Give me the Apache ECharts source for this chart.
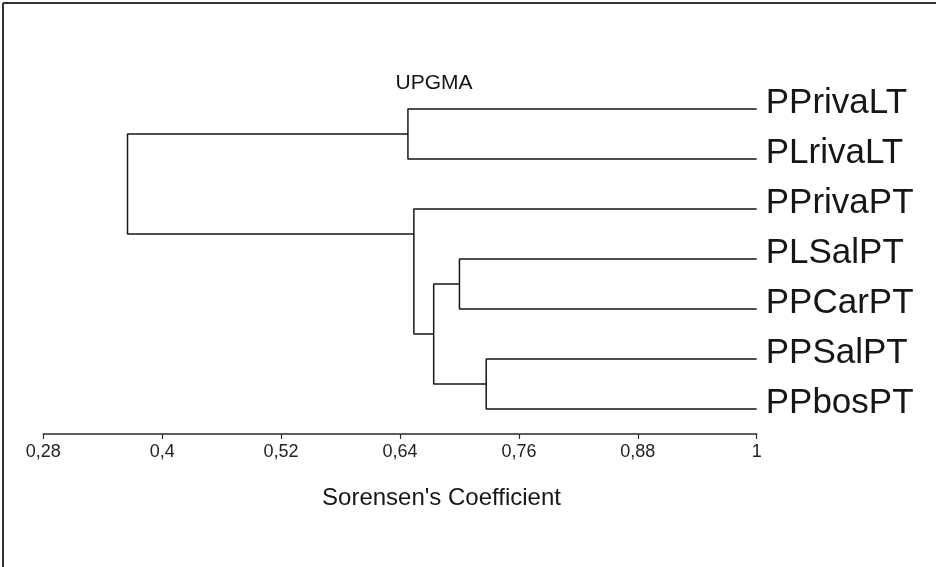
<!DOCTYPE html>
<html>
<head>
<meta charset="utf-8">
<title>UPGMA dendrogram</title>
<script src="https://cdn.jsdelivr.net/npm/echarts@6/dist/echarts.min.js"></script>
<style>
  html, body { margin: 0; padding: 0; background: #ffffff; }
  #chart { width: 936px; height: 567px; }
</style>
</head>
<body>
<div id="chart"></div>
<script>
// Leaves, top to bottom
const leaves = ['PPrivaLT', 'PLrivaLT', 'PPrivaPT', 'PLSalPT', 'PPCarPT', 'PPSalPT', 'PPbosPT'];

// Clusters in merge order: members joined and the Sorensen similarity of the join
const nodeIds        = ['n1', 'n2', 'n3', 'n4', 'n5', 'n6'];
const nodeLeft       = ['PPrivaLT', 'PLSalPT', 'PPSalPT', 'n2', 'PPrivaPT', 'n1'];
const nodeRight      = ['PLrivaLT', 'PPCarPT', 'PPbosPT', 'n3', 'n4', 'n5'];
const nodeSimilarity = [0.648, 0.700, 0.727, 0.674, 0.654, 0.365];
// Row (in leaf units) where a cluster's stem joins its parent; null = midway between its members
const nodeStemRow    = [null, null, null, null, 2.5, null];

// Axis ticks
const tickValues = [0.28, 0.40, 0.52, 0.64, 0.76, 0.88, 1.00];

const FONT = '"Liberation Sans", Arial, Helvetica, sans-serif';
const INK = '#161616';

// Place every leaf at similarity 1 on its own row, then each cluster at its join level
const pos = {};
leaves.forEach((name, i) => { pos[name] = { x: 1, y: i }; });
nodeIds.forEach((id, k) => {
  const a = pos[nodeLeft[k]], b = pos[nodeRight[k]];
  const row = nodeStemRow[k] != null ? nodeStemRow[k] : (a.y + b.y) / 2;
  pos[id] = { x: nodeSimilarity[k], y: row };
});

// One elbow polyline per cluster: member A -> join level -> member B
const branchSeries = nodeIds.map((id, k) => {
  const a = pos[nodeLeft[k]], b = pos[nodeRight[k]], h = nodeSimilarity[k];
  return {
    type: 'line',
    name: id,
    silent: true,
    symbol: 'none',
    animation: false,
    lineStyle: { color: INK, width: 1.5 },
    data: [[a.x, a.y], [h, a.y], [h, b.y], [b.x, b.y]]
  };
});

function fmtTick(v) {
  return String(Math.round(v * 100) / 100).replace('.', ',');
}

const chart = echarts.init(document.getElementById('chart'), null, { renderer: 'canvas' });
chart.setOption({
  backgroundColor: '#ffffff',
  animation: false,
  grid: { left: 43.3, right: 179.3, top: 84, height: 350, containLabel: false },
  xAxis: {
    type: 'value',
    min: 0.28,
    max: 1,
    splitLine: { show: false },
    axisLine: { show: true, onZero: false, lineStyle: { color: '#2a2a2a', width: 1.5 } },
    axisTick: { show: true, length: 5, customValues: tickValues, lineStyle: { color: '#2a2a2a', width: 1.2 } },
    axisLabel: {
      customValues: tickValues,
      formatter: fmtTick,
      margin: 9,
      color: '#222',
      fontFamily: FONT,
      fontSize: 18
    },
    name: "Sorensen's Coefficient",
    nameLocation: 'middle',
    nameGap: 52,
    nameTextStyle: {
      color: INK,
      fontFamily: FONT,
      fontSize: 24,
      padding: [0, 0, 0, 83]
    }
  },
  yAxis: {
    type: 'value',
    inverse: true,
    min: -0.5,
    max: 6.5,
    position: 'right',
    splitLine: { show: false },
    axisLine: { show: false },
    axisTick: { show: false },
    axisLabel: {
      customValues: leaves.map((_, i) => i),
      formatter: v => leaves[Math.round(v)] || '',
      margin: 9,
      color: INK,
      fontFamily: FONT,
      fontSize: 35,
      verticalAlign: 'bottom',
      lineHeight: 12
    }
  },
  graphic: [
    {
      type: 'text',
      x: 434, y: 83,
      style: {
        text: 'UPGMA',
        font: '21px ' + FONT,
        fill: INK,
        align: 'center',
        verticalAlign: 'middle'
      }
    },
    // frame edges along the top and left
    { type: 'line', shape: { x1: 3, y1: 3, x2: 936, y2: 3 }, style: { stroke: '#333', lineWidth: 2 } },
    { type: 'line', shape: { x1: 3, y1: 3, x2: 3, y2: 567 }, style: { stroke: '#333', lineWidth: 2 } }
  ],
  series: branchSeries
});
</script>
</body>
</html>
